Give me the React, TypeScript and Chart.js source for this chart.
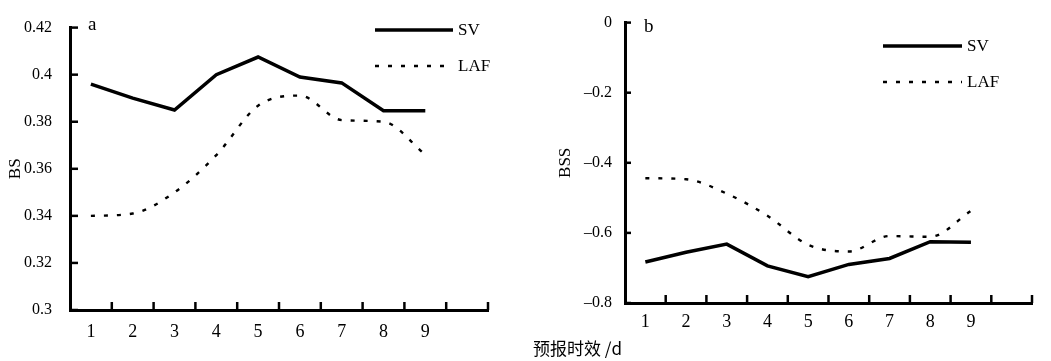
import React, { useEffect, useRef } from 'react';
import { Chart, registerables } from 'chart.js';

Chart.register(...registerables);

// ---- data ----
const categories = ['1', '2', '3', '4', '5', '6', '7', '8', '9', ''];
const seriesNames = ['SV', 'LAF'];
const bsSV = [0.396, 0.39, 0.385, 0.4, 0.4075, 0.399, 0.3965, 0.3847, 0.3847];
const bsLAF = [0.34, 0.341, 0.35, 0.3658, 0.3868, 0.3911, 0.3807, 0.38, 0.366];
const bssSV = [-0.683, -0.655, -0.632, -0.694, -0.725, -0.69, -0.673, -0.625, -0.627];
const bssLAF = [-0.444, -0.447, -0.488, -0.551, -0.634, -0.653, -0.609, -0.611, -0.537];
const bsRange = [0.3, 0.42];
const bsStep = 0.02;
const bssRange = [-0.8, 0];
const bssStep = 0.2;
const panelLetters = ['a', 'b'];
const yTitles = ['BS', 'BSS'];
const xTitle = '预报时效 /d';

const SERIF = '"Liberation Serif", "DejaVu Serif", serif';

const decorPlugin = {
  id: 'decor',
  afterDraw(chart: any, _args: any, opts: any) {
    const ctx = chart.ctx;
    const xs = chart.scales.x;
    const ys = chart.scales.y;
    const area = chart.chartArea;
    ctx.save();
    ctx.strokeStyle = '#000';
    ctx.lineWidth = 2.5;
    ctx.setLineDash([]);
    // inward y ticks
    ys.ticks.forEach((t: any) => {
      const py = ys.getPixelForValue(t.value);
      ctx.beginPath();
      ctx.moveTo(area.left, py);
      ctx.lineTo(area.left + opts.yTickLen, py);
      ctx.stroke();
    });
    // upward x ticks at slot boundaries
    for (let i = 0; i < categories.length; i++) {
      const px = xs.getPixelForValue(i + 0.5);
      ctx.beginPath();
      ctx.moveTo(px, area.bottom);
      ctx.lineTo(px, area.bottom - opts.xTickLen);
      ctx.stroke();
    }
    // legend
    ctx.font = '17px ' + SERIF;
    ctx.fillStyle = '#000';
    ctx.textBaseline = 'middle';
    ctx.textAlign = 'left';
    chart.data.datasets.forEach((ds: any, i: number) => {
      const ly = opts.legendY[i];
      ctx.save();
      ctx.lineWidth = ds.borderWidth;
      ctx.setLineDash(ds.borderDash || []);
      ctx.beginPath();
      ctx.moveTo(opts.legendX, ly);
      ctx.lineTo(opts.legendX + opts.legendLen, ly);
      ctx.stroke();
      ctx.restore();
      ctx.fillText(ds.label, opts.legendX + opts.legendLen + opts.legendGap, ly + 1);
    });
    // panel letter
    ctx.font = '19px ' + SERIF;
    ctx.fillText(opts.letter, opts.letterX, opts.letterY);
    ctx.restore();
  },
};

function makeConfig(
  sv: number[],
  laf: number[],
  range: number[],
  step: number,
  p: any
) {
  return {
    type: 'line',
    data: {
      labels: categories,
      datasets: [
        {
          label: seriesNames[0],
          data: sv,
          borderColor: '#000',
          borderWidth: 3.5,
          pointRadius: 0,
          tension: 0,
          fill: false,
        },
        {
          label: seriesNames[1],
          data: laf,
          borderColor: '#000',
          borderWidth: 2.4,
          borderDash: [4, 9],
          pointRadius: 0,
          cubicInterpolationMode: 'monotone',
          fill: false,
        },
      ],
    },
    plugins: [decorPlugin],
    options: {
      responsive: false,
      animation: false,
      devicePixelRatio: 1,
      layout: { padding: { top: 15, right: p.right, left: 0, bottom: 0 } },
      plugins: {
        legend: { display: false },
        tooltip: { enabled: false },
        decor: p.decor,
      },
      scales: {
        x: {
          type: 'category',
          offset: true,
          grid: { display: false, drawTicks: false },
          border: { display: true, width: 3, color: '#000' },
          ticks: {
            color: '#000',
            font: { family: SERIF, size: 18 },
            padding: p.xPad,
            maxRotation: 0,
            autoSkip: false,
          },
          afterFit: (s: any) => {
            s.height = p.xHeight;
          },
        },
        y: {
          type: 'linear',
          min: range[0],
          max: range[1],
          grid: { display: false, drawTicks: false },
          border: { display: true, width: 3, color: '#000' },
          ticks: {
            stepSize: step,
            color: '#000',
            font: { family: SERIF, size: 16 },
            padding: p.yPad,
            callback: (v: number) => {
              const s = String(+Number(v).toFixed(2));
              return s.replace('-', '\u2013');
            },
          },
          title: {
            display: true,
            text: p.yTitle,
            color: '#000',
            font: { family: SERIF, size: 17 },
            padding: { top: p.titlePad, bottom: 0 },
          },
          afterFit: (s: any) => {
            s.width = p.yWidth;
          },
        },
      },
    },
  };
}

function Panel(props: { cfg: any; left: number; width: number }) {
  const ref = useRef<HTMLCanvasElement | null>(null);
  useEffect(() => {
    if (!ref.current) return;
    const chart = new Chart(ref.current, props.cfg);
    return () => chart.destroy();
  }, []);
  return (
    <div style={{ position: 'absolute', left: props.left, top: 0, width: props.width, height: 361 }}>
      <canvas ref={ref} width={props.width} height={361} style={{ width: props.width, height: 361 }} />
    </div>
  );
}

export default function App() {
  const cfgA = makeConfig(bsSV, bsLAF, bsRange, bsStep, {
    right: 32,
    xHeight: 51,
    yWidth: 70,
    xPad: 11,
    yPad: 18,
    yTitle: yTitles[0],
    titlePad: 5,
    decor: {
      yTickLen: 8,
      xTickLen: 8,
      legendX: 375,
      legendLen: 78,
      legendGap: 5,
      legendY: [30, 66],
      letter: panelLetters[0],
      letterX: 88,
      letterY: 25,
    },
  });
  const cfgB = makeConfig(bssSV, bssLAF, bssRange, bssStep, {
    right: 19,
    xHeight: 58,
    yWidth: 105,
    xPad: 8,
    yPad: 13,
    yTitle: yTitles[1],
    titlePad: 35,
    decor: {
      yTickLen: 6,
      xTickLen: 8,
      legendX: 363,
      legendLen: 79,
      legendGap: 5,
      legendY: [46, 82],
      letter: panelLetters[1],
      letterX: 124,
      letterY: 27,
    },
  });
  return (
    <div style={{ position: 'fixed', left: 0, top: 0, width: 1051, height: 361, background: '#fff', overflow: 'hidden' }}>
      <Panel cfg={cfgA} left={0} width={520} />
      <Panel cfg={cfgB} left={520} width={531} />
      <div
        style={{
          position: 'absolute',
          left: 533,
          top: 336,
          fontFamily: '"Noto Sans CJK SC", sans-serif',
          fontSize: 17,
          lineHeight: '24px',
          color: '#000',
          whiteSpace: 'nowrap',
        }}
      >
        {xTitle}
      </div>
    </div>
  );
}
